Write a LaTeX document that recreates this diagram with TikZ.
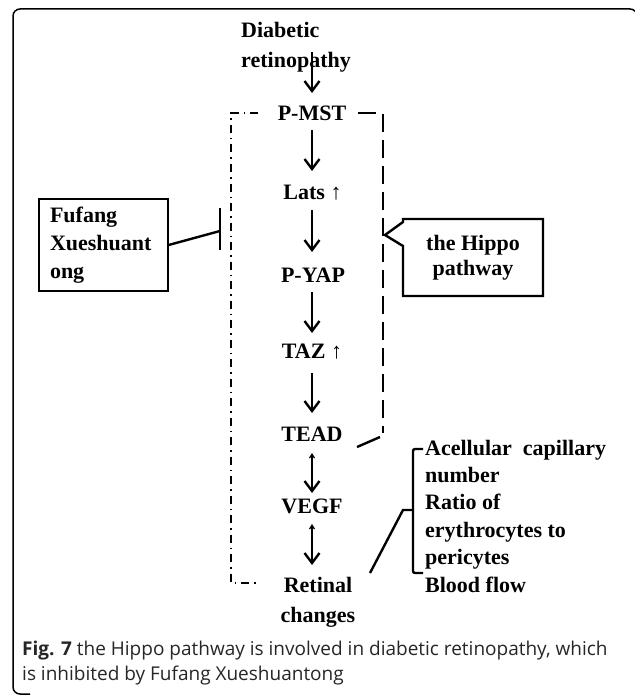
\documentclass[tikz,border=0pt]{standalone}
\usepackage{fontspec}
\setmainfont{Liberation Serif}
\newfontfamily\capfont{Open Sans}
\usetikzlibrary{arrows.meta,calc}
\begin{document}
\begin{tikzpicture}[x=1pt,y=-1pt,
  lbl/.style={font=\fontsize{22}{28}\selectfont\bfseries, inner sep=0pt},
  arr/.style={line width=2.4pt,-{Straight Barb[length=10pt,width=15pt,line width=2.4pt]}},
  darr/.style={line width=2.4pt,{Straight Barb[length=4pt,width=5pt,line width=1.2pt]}-{Straight Barb[length=10pt,width=15pt,line width=2.4pt]}},
  dashdotline/.style={line width=2.4pt, dash pattern=on 8pt off 5pt on 1.5pt off 5pt},
  dashline/.style={line width=2.4pt, dash pattern=on 18pt off 8pt},
  thin line/.style={line width=2.4pt},
]
\useasboundingbox (0,0) rectangle (634,695);
% frame
\draw[line width=1.5pt, rounded corners=7pt] (30,694) -- (13,694) -- (13,9) -- (637,9) -- (637,40);

% chain
\node[lbl, anchor=west, align=left, font=\fontsize{22}{30}\selectfont\bfseries] (dr) at (241,47) {Diabetic\\retinopathy};
\node[lbl] (pmst) at (312,113) {P-MST};
\node[lbl] (lats) at (312.5,193) {Lats ↑};
\node[lbl] (pyap) at (313,275) {P-YAP};
\node[lbl] (taz) at (312,352) {TAZ ↑};
\node[lbl] (tead) at (312,434) {TEAD};
\node[lbl] (vegf) at (312,506) {VEGF};
\node[lbl, align=center, font=\fontsize{22}{30}\selectfont\bfseries] (ret) at (318,602) {Retinal\\changes};

\draw[arr] ($(dr.center -| pmst.center)+(0,5)$) -- ($(pmst.center)+(0,-20)$);
\draw[arr] ($(pmst.center)+(0,17)$) -- ($(pmst.center |- lats.center)+(0,-22)$);
\draw[arr] ($(pmst.center |- lats.center)+(0,17)$) -- ($(pmst.center |- pyap.center)+(0,-23)$);
\draw[arr] ($(pmst.center |- pyap.center)+(0,17)$) -- ($(pmst.center |- taz.center)+(0,-19)$);
\draw[arr] ($(pmst.center |- taz.center)+(0,21)$) -- ($(tead.center)+(0,-21)$);
\draw[darr] ($(tead.center)+(0,19)$) -- ($(vegf.center)+(0,-13)$);
\draw[darr] ($(vegf.center)+(0,18)$) -- ($(vegf.center |- ret.center)+(0,-37)$);

% dash-dot bracket (left)
\draw[dashdotline] (258,113) -- (231,113) -- (231,583) -- (258,583);
% dashed bracket (right)
\draw[dashline] (358,113) -- (383,113) -- (383,433);
\draw[thin line] (380,437) -- (357,447);

% Fufang box and inhibition
\node[draw, line width=1.2pt, minimum width=129pt, minimum height=92pt, text width=107pt, align=left, inner sep=0pt,
      font=\fontsize{22}{28}\selectfont\bfseries] (fu) at (103.5,245) {Fufang\\Xueshuant\\ong};
\coordinate (inh) at (220,231);
\draw[thin line] (fu.east) -- (inh);
\draw[thin line] ($(inh)+(0,-23)$) -- ($(inh)+(0,19)$);

% Hippo callout
\node[lbl, align=center, font=\fontsize{22}{25}\selectfont\bfseries] (hip) at (473,258) {the Hippo\\pathway};
\draw[thin line, line join=miter] (403,246) -- (403,296) -- (543,296) -- (543,219) -- (403,219) -- (403,222) -- (385,235) -- cycle;

% effects
\node[lbl, anchor=west, align=left, font=\fontsize{22}{27.4}\selectfont\bfseries] (eff) at (425,516)
  {Acellular\ \ capillary\\number\\Ratio of\\erythrocytes to\\pericytes\\Blood flow};
\draw[thin line, rounded corners=2pt] (423,449) -- (413,449) -- (413,573) -- (423,573);
\coordinate (nub) at (403,510);
\coordinate (lend) at (370,573);
\draw[thin line] (413,510) -- (nub) -- (lend);

% caption
\node[anchor=north west, align=left, inner sep=0pt, font=\capfont\fontsize{19}{25}\selectfont, text=black!85] (cap) at (22,641)
  {\textbf{Fig. 7} the Hippo pathway is involved in diabetic retinopathy, which\\is inhibited by Fufang Xueshuantong};
\end{tikzpicture}
\end{document}
